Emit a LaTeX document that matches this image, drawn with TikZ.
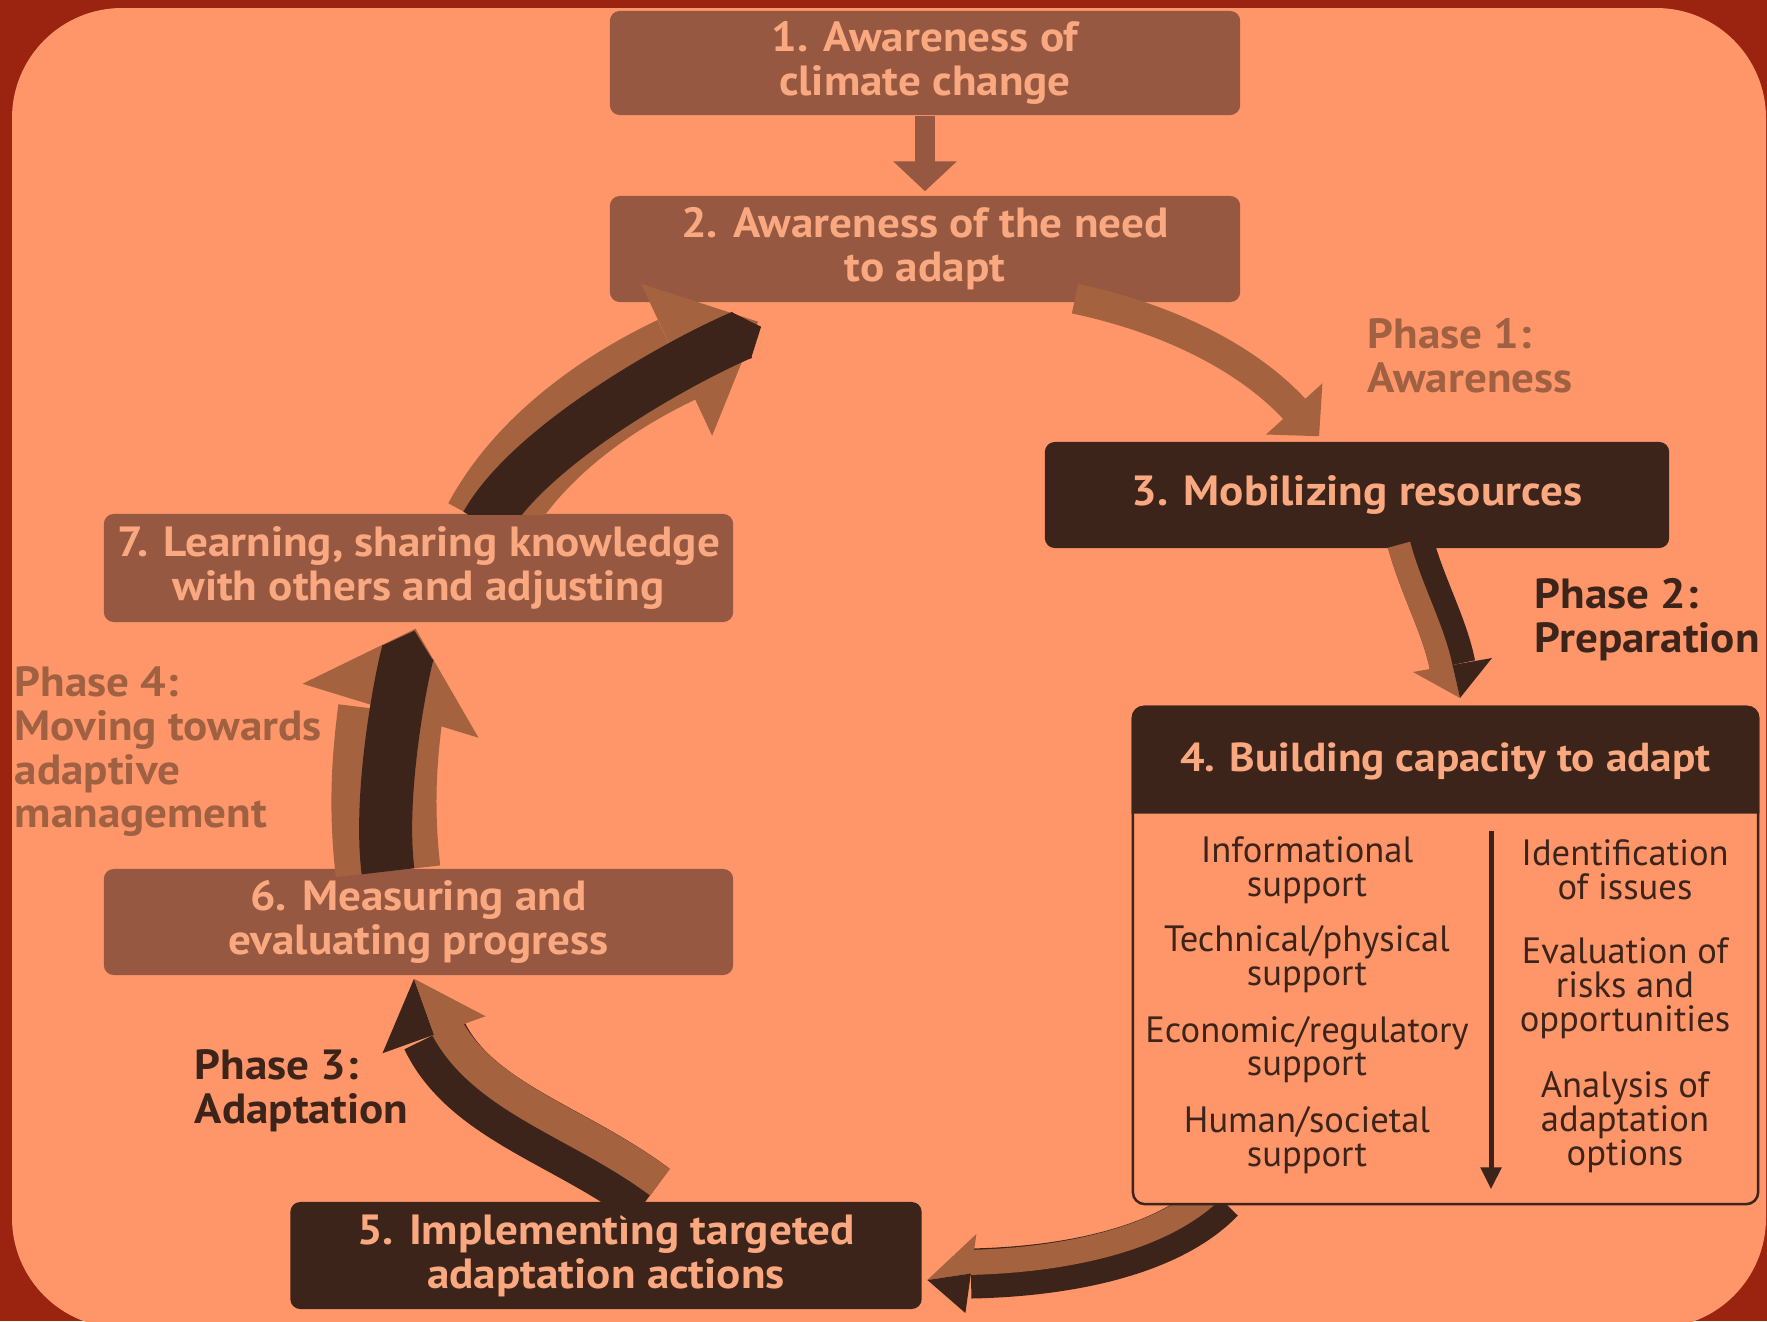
\documentclass[tikz,border=0pt]{standalone}
\usepackage{fontspec}
\setmainfont{PT Sans}
\newfontfamily\stepfont{PT Sans}[FakeStretch=1.07]
\usepackage{tikz}
\usetikzlibrary{arrows.meta,calc}
\definecolor{panelred}{HTML}{9A2410}
\definecolor{panelorange}{HTML}{FF966A}
\definecolor{boxbrown}{HTML}{965840}
\definecolor{arrowbrown}{HTML}{A4623F}
\definecolor{deepbrown}{HTML}{3D241A}
\definecolor{paletext}{HTML}{FAA880}
\definecolor{phasebrown}{HTML}{A06042}
\tikzset{
  stepbox/.style={rounded corners=0.1cm, minimum width=6.3cm, minimum height=1.06cm,
    inner sep=0pt, align=center, text=paletext, font=\stepfont\fontsize{12}{12.5}\selectfont\bfseries},
  lightstep/.style={stepbox, fill=boxbrown},
  darkstep/.style={stepbox, fill=deepbrown},
  phase/.style={anchor=west, align=left, inner sep=0pt, font=\stepfont\fontsize{12}{12.5}\selectfont\bfseries},
  item/.style={align=center, inner sep=0pt, text=deepbrown, font=\fontsize{10.4}{9.6}\selectfont},
}

\begin{document}
\begin{tikzpicture}[x=0.01cm,y=-0.01cm]
  \useasboundingbox (0,0) rectangle (1767,1321);
  \fill[panelred] (0,0) rectangle (1767,1321);
  \fill[panelorange, rounded corners=1.1cm] (12,8) rectangle (1766,1328);

  % step boxes
  \node[lightstep, minimum height=1.04cm] (b1) at (925,63) {1. Awareness of\\climate change};
  \node[lightstep] (b2) at (925,249) {2. Awareness of the need\\to adapt};
  \node[darkstep, minimum width=6.24cm] (b3) at (1357,495) {3. Mobilizing resources};
  \node[darkstep, minimum width=6.31cm, minimum height=1.07cm] (b5) at (606,1255.5)
    {5. Implementing targeted\\adaptation actions};
  \node[lightstep, minimum width=6.29cm] (b6) at (418.5,922) {6. Measuring and\\evaluating progress};
  \node[lightstep, minimum width=6.29cm, minimum height=1.08cm] (b7) at (418.5,568)
    {7. Learning, sharing knowledge\\with others and adjusting};

  % end points of the cycle arrows
  \coordinate (s2) at ($(b2.south)+(150,-4)$);
  \coordinate (e3) at ($(b3.north west)+(275,-5)$);
  \coordinate (s3) at ($(b3.south)+(53,-8)$);
  \coordinate (e4) at (1460,698);
  \coordinate (e4m) at ($(e4)+(-7.5,-33)$);
  \coordinate (e4l) at ($(e4)+(-47,-26)$);
  \coordinate (e4r) at ($(e4)+(32,-40)$);
  \coordinate (s4) at (1220,1198);
  \coordinate (e5) at ($(b5.east)+(5,24.5)$);
  \coordinate (e5m) at ($(e5)+(43.5,-6.5)$);
  \coordinate (e5u) at ($(e5)+(49,-46)$);
  \coordinate (e5d) at ($(e5)+(38,33)$);
  \coordinate (s5) at ($(b5.north)+(44,-6)$);
  \coordinate (e6) at ($(b6.south)+(-4.5,3)$);
  \coordinate (e6m) at ($(e6)+(20,56)$);
  \coordinate (e6l) at ($(e6)+(-31.5,74.5)$);
  \coordinate (e6r) at ($(e6)+(71.5,37.5)$);
  \coordinate (s6) at ($(b6.north)+(-30.5,3)$);
  \coordinate (e7) at ($(b7.south)+(-3,6)$);
  \coordinate (e7m) at ($(e7)+(-25,82)$);
  \coordinate (e7l) at ($(e7)+(-113,55)$);
  \coordinate (e7r) at ($(e7)+(63,109)$);
  \coordinate (s7) at ($(b7.north)+(68.5,11)$);
  \coordinate (e2) at ($(b2.south west)+(149,19)$);
  \coordinate (e2m) at ($(e2)+(-81.5,38)$);
  \coordinate (e2u) at ($(e2)+(-117,-38)$);
  \coordinate (e2d) at ($(e2)+(-46,114)$);

  % 1 -> 2 and 2 -> 3
  \draw[boxbrown, line width=0.2cm, -{Triangle[width=0.62cm,length=0.3cm]}]
    (b1.south) -- ($(b2.north)+(0,-4)$);
  \draw[arrowbrown, line width=0.3cm, -{Triangle[width=0.74cm,length=0.37cm]}]
    (s2) .. controls +(95,20) and +(-70,-77) .. (e3);

  % 3 -> 4
  \draw[deepbrown, line width=0.46cm] (s3) .. controls +(12,45) and +(-8,-40) .. (e4m);
  \draw[arrowbrown, line width=0.23cm]
    ($(s3)+(-11,4)$) .. controls +(12,45) and +(-8,-40) .. ($(e4m)+(-11,4)$);
  \fill[arrowbrown] (e4) -- (e4m) -- (e4l) -- cycle;
  \fill[deepbrown] (e4) -- (e4m) -- (e4r) -- cycle;

  % 4 -> 5
  \draw[deepbrown, line width=0.5cm] (s4) .. controls +(-50,52) and +(100,-2) .. (e5m);
  \draw[arrowbrown, line width=0.25cm]
    ($(s4)+(-5,-11)$) .. controls +(-50,52) and +(100,-2) .. ($(e5m)+(-5,-11)$);
  \fill[arrowbrown] (e5) -- (e5m) -- (e5u) -- cycle;
  \fill[deepbrown] (e5) -- (e5m) -- (e5d) -- cycle;

  % 5 -> 6
  \draw[deepbrown, line width=0.66cm] (s5) .. controls +(-80,-60) and +(36,76) .. (e6m);
  \draw[arrowbrown, line width=0.33cm]
    ($(s5)+(10,-13)$) .. controls +(-80,-60) and +(36,76) .. ($(e6m)+(10,-13)$);
  \fill[deepbrown] (e6) -- (e6m) -- (e6l) -- cycle;
  \fill[arrowbrown] (e6) -- (e6m) -- (e6r) -- cycle;

  % 6 -> 7
  \draw[arrowbrown, line width=1.05cm] (s6) .. controls +(-8,-70) and +(-5,40) .. (e7m);
  \fill[arrowbrown] (e7) -- (e7l) -- (e7r) -- cycle;
  \draw[deepbrown, line width=0.53cm, -{Triangle[width=0.53cm,length=0.24cm]}]
    (s6) .. controls +(-10,-80) and +(-12,40) .. ($(e7)+(-1,2)$);

  % box 4 with its header and two columns
  \node[draw=deepbrown, line width=0.7pt, fill=panelorange, rounded corners=0.12cm,
    minimum width=6.25cm, minimum height=4.97cm, inner sep=0pt] (b4) at (1445.5,955.5) {};
  \fill[deepbrown] ($(b4.north west)+(0,108)$) [rounded corners=0.12cm] -- (b4.north west)
    -- (b4.north east) [sharp corners] -- ($(b4.north east)+(0,108)$) -- cycle;
  \node[inner sep=0pt, text=paletext, font=\stepfont\fontsize{11.5}{12.5}\selectfont\bfseries] (b4t)
    at ($(b4.north)+(0,56)$) {4. Building capacity to adapt};
  \coordinate (d1) at ($(b4.north)+(45.5,125)$);
  \coordinate (d2) at ($(b4.south)+(45.5,-16)$);
  \draw[deepbrown, line width=0.05cm, -{Triangle[width=0.2cm,length=0.22cm]}] (d1) -- (d2);
  \foreach \t/\y [count=\i] in {{Informational\\support}/870, {Technical/physical\\support}/959.5,
      {Economic/regulatory\\support}/1049.5, {Human/societal\\support}/1140}
    \node[item] (l\i) at (1307,\y) {\t};
  \foreach \t/\y [count=\i] in {{Identification\\of issues}/870,
      {Evaluation of\\risks and\\opportunities}/988, {Analysis of\\adaptation\\options}/1122}
    \node[item] (r\i) at (1625,\y) {\t};

  % 7 -> 2, drawn over box 2
  \begin{scope}
    \clip (0,0) rectangle (1767,514);
    \draw[arrowbrown, line width=0.88cm] (s7) .. controls +(40,-75) and +(-72,34) .. (e2m);
    \fill[arrowbrown] (e2) -- (e2u) -- (e2d) -- cycle;
    \draw[deepbrown, line width=0.5cm, -{Triangle[width=0.5cm,length=0.22cm]}]
      ($(s7)+(-2,0)$) .. controls +(45,-80) and +(-80,34) .. ($(e2)+(3,5)$);
  \end{scope}

  % phase labels
  \node[phase, text=phasebrown] (p1) at (1367,356) {Phase 1:\\Awareness};
  \node[phase, text=deepbrown] (p2) at (1534,619.5) {Phase 2:\\Preparation};
  \node[phase, text=deepbrown] (p3) at (194,1090.5) {Phase 3:\\Adaptation};
  \node[phase, text=phasebrown] (p4) at (14,751.5) {Phase 4:\\Moving towards\\adaptive\\management};
\end{tikzpicture}
\end{document}
